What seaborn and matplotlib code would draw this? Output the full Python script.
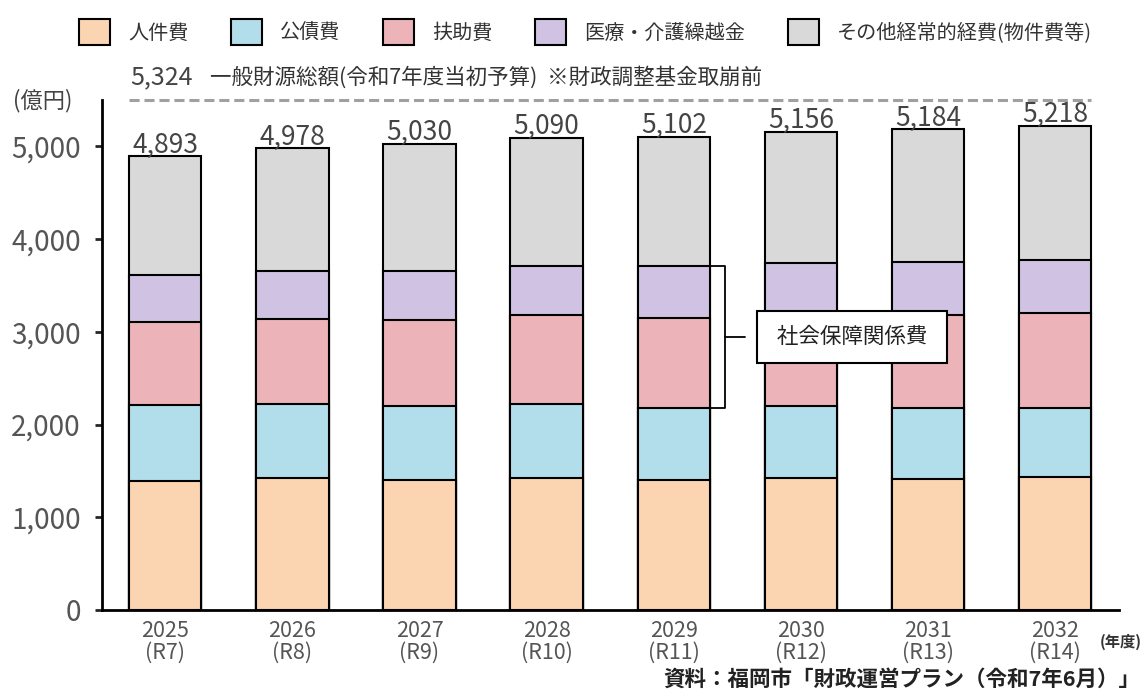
import numpy as np
import pandas as pd
import seaborn as sns
import matplotlib.pyplot as plt
from matplotlib.patches import Patch
from matplotlib.ticker import FuncFormatter

# Data (億円)
years = ['2025', '2026', '2027', '2028', '2029', '2030', '2031', '2032']
reiwa = ['R7', 'R8', 'R9', 'R10', 'R11', 'R12', 'R13', 'R14']
personnel = [1390, 1426, 1401, 1426, 1401, 1419, 1408, 1430]   # 人件費
debt = [819, 797, 797, 797, 783, 779, 776, 754]                 # 公債費
assistance = [898, 913, 927, 956, 966, 990, 1002, 1020]         # 扶助費
medical = [510, 525, 536, 531, 557, 555, 567, 568]              # 医療・介護繰越金
other = [1276, 1317, 1369, 1380, 1395, 1413, 1431, 1446]        # その他経常的経費
totals = [4893, 4978, 5030, 5090, 5102, 5156, 5184, 5218]
budget_total = 5324

series_names = ['人件費', '公債費', '扶助費', '医療・介護繰越金', 'その他経常的経費(物件費等)']
colors = ['#FBD4B2', '#B2DDEA', '#ECB4B8', '#D0C2E2', '#D9D9D9']

sns.set_style('ticks')
plt.rcParams['font.family'] = ['Noto Sans CJK JP', 'DejaVu Sans']

fig, ax = plt.subplots(figsize=(11.46, 7), dpi=100)
fig.subplots_adjust(left=0.0887, right=0.9762, bottom=0.1286, top=0.857)

xlabels = [f'{y}\n({r})' for y, r in zip(years, reiwa)]
layers = np.array([personnel, debt, assistance, medical, other])
cum = np.cumsum(layers, axis=0)
df = pd.DataFrame(cum.T, columns=series_names)
df['year'] = xlabels

# stacked bars: draw the running totals from the tallest down
for i in reversed(range(len(series_names))):
    sns.barplot(data=df, x='year', y=series_names[i], order=xlabels, color=colors[i],
                width=0.57, edgecolor='black', linewidth=1.5, saturation=1,
                errorbar=None, ax=ax)

for i, t in enumerate(totals):
    ax.annotate(f'{t:,}', (i, t), xytext=(0, -1.5), textcoords='offset points',
                ha='center', va='bottom', fontsize=19, color='#444')

ax.set_xlim(-0.5, 7.5)
ax.set_ylim(0, 5500)
ax.set_yticks(range(0, 5001, 1000))
ax.yaxis.set_major_formatter(FuncFormatter(lambda v, p: f'{int(v):,}'))
ax.set_xlabel('')
ax.set_ylabel('')
ax.tick_params(axis='y', length=5, width=2, labelsize=20, labelcolor='#555', pad=10)
ax.tick_params(axis='x', length=0, labelsize=15.5, labelcolor='#555', pad=7)
for lab in ax.get_xticklabels():
    lab.set_linespacing(1.0)
sns.despine(ax=ax)
for s in ['left', 'bottom']:
    ax.spines[s].set_linewidth(2)
    ax.spines[s].set_color('black')

# dashed reference line along the top
half = 0.285
ax.plot([-half, len(years) - 1 + half], [ax.get_ylim()[1]] * 2, ls=(0, (3.3, 1.6)),
        color='#a0a0a0', lw=2.2, clip_on=False)

# bracket for 社会保障関係費 on 2029 bar
b = 4
top, bot = cum[3][b], cum[1][b]
mid = (top + bot) / 2
x0 = b + half
x1 = x0 + 0.115
x2 = x1 + 0.16
ax.plot([x0, x1, x1, x0], [top, top, bot, bot], color='black', lw=1.3)
ax.plot([x1, x2], [mid, mid], color='black', lw=1.3)
ax.text(5.4, mid, ' 社会保障関係費 ', ha='center', va='center', fontsize=15.5, color='#222',
        bbox=dict(boxstyle='square,pad=0.68', facecolor='white', edgecolor='black', linewidth=1.5))

handles = [Patch(facecolor=c, edgecolor='black', linewidth=1.5, label=n)
           for c, n in zip(colors, series_names)]
fig.legend(handles=handles, loc='center', bbox_to_anchor=(0.511, 0.954), ncol=5,
           frameon=False, fontsize=14.5, handlelength=1.55, handleheight=1.65,
           handletextpad=0.9, columnspacing=2.1, labelcolor='#333')

fig.text(0.037, 0.856, '(億円)', ha='center', va='center', fontsize=16, color='#444')
fig.text(0.1134, 0.889, f'{budget_total:,}', ha='left', va='center', fontsize=18, color='#444')
fig.text(0.183, 0.889, '一般財源総額(令和7年度当初予算)  ※財政調整基金取崩前',
         ha='left', va='center', fontsize=15.5, color='#333')
fig.text(0.9965, 0.083, '(年度)', ha='right', va='center', fontsize=11, weight='bold', color='#333')
fig.text(0.995, 0.029, '資料：福岡市「財政運営プラン（令和7年6月）」', ha='right', va='center',
         fontsize=15.5, weight='bold', color='#222')

fig.savefig('out.png', dpi=100)
